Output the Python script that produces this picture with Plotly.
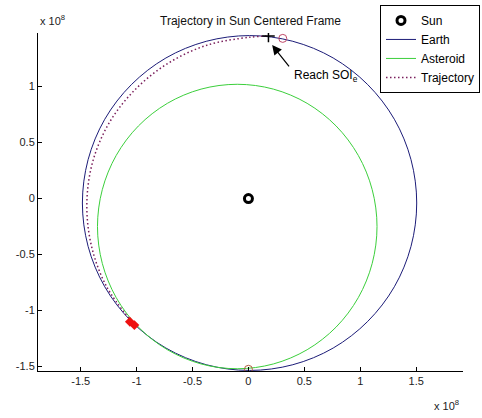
import plotly.graph_objects as go

# ---- data (units of 1e8 km) ----
earth_x = [1.505, 1.454, 1.305, 1.067, 0.758, 0.397, 0.01, -0.377, -0.738, -1.047, -1.285, -1.434,
           -1.485, -1.434, -1.285, -1.047, -0.738, -0.377, 0.01, 0.397, 0.758, 1.067, 1.305, 1.454, 1.505]
earth_y = [-0.04, 0.347, 0.708, 1.017, 1.255, 1.404, 1.455, 1.404, 1.255, 1.017, 0.708, 0.347,
           -0.04, -0.427, -0.788, -1.097, -1.335, -1.484, -1.535, -1.484, -1.335, -1.097, -0.788, -0.427, -0.04]

ast_x = [1.15, 1.107, 0.9825, 0.784, 0.525, 0.2235, -0.1, -0.4235, -0.725, -0.984, -1.1825, -1.307,
         -1.35, -1.307, -1.1825, -0.984, -0.725, -0.4235, -0.1, 0.2235, 0.525, 0.784, 0.9825, 1.107, 1.15]
ast_y = [-0.25, 0.079, 0.385, 0.648, 0.85, 0.977, 1.02, 0.977, 0.85, 0.648, 0.385, 0.079,
         -0.25, -0.579, -0.885, -1.148, -1.35, -1.477, -1.52, -1.477, -1.35, -1.148, -0.885, -0.579, -0.25]

traj_x = [-1.047, -1.272, -1.405, -1.445, -1.391, -1.241, -1.008, -0.715, -0.368, 0.01, 0.179]
traj_y = [-1.097, -0.78, -0.419, -0.04, 0.335, 0.683, 0.978, 1.21, 1.37, 1.44, 1.451]

sun_x, sun_y = [0], [0]
depart_x, depart_y = [-1.06, -1.02], [-1.10, -1.13]
soi_x, soi_y = [0.179], [1.451]
ast_at_soi_x, ast_at_soi_y = [0.307], [1.43]
earth_start_x, earth_start_y = [0.0], [-1.525]

x_ticks = [-1.5, -1, -0.5, 0, 0.5, 1, 1.5]
y_ticks = [-1.5, -1, -0.5, 0, 0.5, 1]

FONT = "Arial, Liberation Sans, sans-serif"

fig = go.Figure()
fig.add_trace(go.Scatter(x=sun_x, y=sun_y, mode="markers", name="Sun",
                         marker=dict(symbol="circle-open", size=8, color="black",
                                     line=dict(width=3, color="black"))))
fig.add_trace(go.Scatter(x=earth_x, y=earth_y, mode="lines", name="Earth",
                         line=dict(color="#1c1c78", width=1, shape="spline")))
fig.add_trace(go.Scatter(x=ast_x, y=ast_y, mode="lines", name="Asteroid",
                         line=dict(color="#3ccf3c", width=1, shape="spline")))
fig.add_trace(go.Scatter(x=traj_x, y=traj_y, mode="lines", name="Trajectory",
                         line=dict(color="#7a1f5c", width=1.5, dash="1.5px,2.5px", shape="spline")))
fig.add_trace(go.Scatter(x=depart_x, y=depart_y, mode="markers", showlegend=False,
                         marker=dict(symbol="square", size=7, color="#ee1111", angle=45)))
fig.add_trace(go.Scatter(x=soi_x, y=soi_y, mode="markers", showlegend=False,
                         marker=dict(symbol="cross-thin-open", size=9, color="black",
                                     line=dict(width=1.5, color="black"))))
fig.add_trace(go.Scatter(x=ast_at_soi_x, y=ast_at_soi_y, mode="markers", showlegend=False,
                         marker=dict(symbol="circle-open", size=8, color="#c04868",
                                     line=dict(width=1, color="#c04868"))))
fig.add_trace(go.Scatter(x=earth_start_x, y=earth_start_y, mode="markers", showlegend=False,
                         marker=dict(symbol="circle-open", size=8, color="#b05a3a",
                                     line=dict(width=1, color="#b05a3a"))))

axis_common = dict(showgrid=False, zeroline=False, showline=True, linecolor="black",
                   linewidth=1, ticks="inside", ticklen=4, tickcolor="black",
                   tickfont=dict(family=FONT, size=11, color="#222"))
fig.update_xaxes(range=[-1.882, 1.919], tickvals=x_ticks,
                 ticktext=[f"{v:g}" for v in x_ticks], **axis_common)
fig.update_yaxes(range=[-1.54, 1.478], tickvals=y_ticks,
                 ticktext=[f"{v:g}" for v in y_ticks], **axis_common)

fig.update_layout(
    width=482, height=418,
    margin=dict(l=38, r=19, t=33, b=47, autoexpand=False),
    paper_bgcolor="white", plot_bgcolor="white",
    font=dict(family=FONT, size=12, color="black"),
    title=dict(text="Trajectory in Sun Centered Frame", x=0.5, xref="paper",
               y=1 - 20.5 / 418, yanchor="middle", font=dict(family=FONT, size=12, color="#111")),
    legend=dict(x=1.04, xanchor="right", y=1.083, yanchor="top", bgcolor="white",
                bordercolor="black", borderwidth=1, font=dict(family=FONT, size=12),
                tracegroupgap=0, itemwidth=30),
    annotations=[
        dict(text="x 10<sup>8</sup>", xref="paper", yref="paper", x=0.0, y=1.0385,
             xanchor="left", yanchor="middle", showarrow=False,
             font=dict(family=FONT, size=11, color="#222")),
        dict(text="x 10<sup>8</sup>", xref="paper", yref="paper", x=0.995, y=-0.1006,
             xanchor="right", yanchor="middle", showarrow=False,
             font=dict(family=FONT, size=11, color="#222")),
        dict(text="Reach SOI<sub>e</sub>", xref="x", yref="y", x=0.39, y=1.094,
             xanchor="left", yanchor="middle", showarrow=False,
             font=dict(family=FONT, size=12, color="black")),
        dict(text=" ", xref="x", yref="y", x=0.212, y=1.37, axref="x", ayref="y",
             ax=0.39, ay=1.147, showarrow=True, arrowhead=2, arrowsize=1.6,
             arrowwidth=1.2, arrowcolor="black", standoff=0, startstandoff=0),
    ],
)

fig.write_html("out.html")
